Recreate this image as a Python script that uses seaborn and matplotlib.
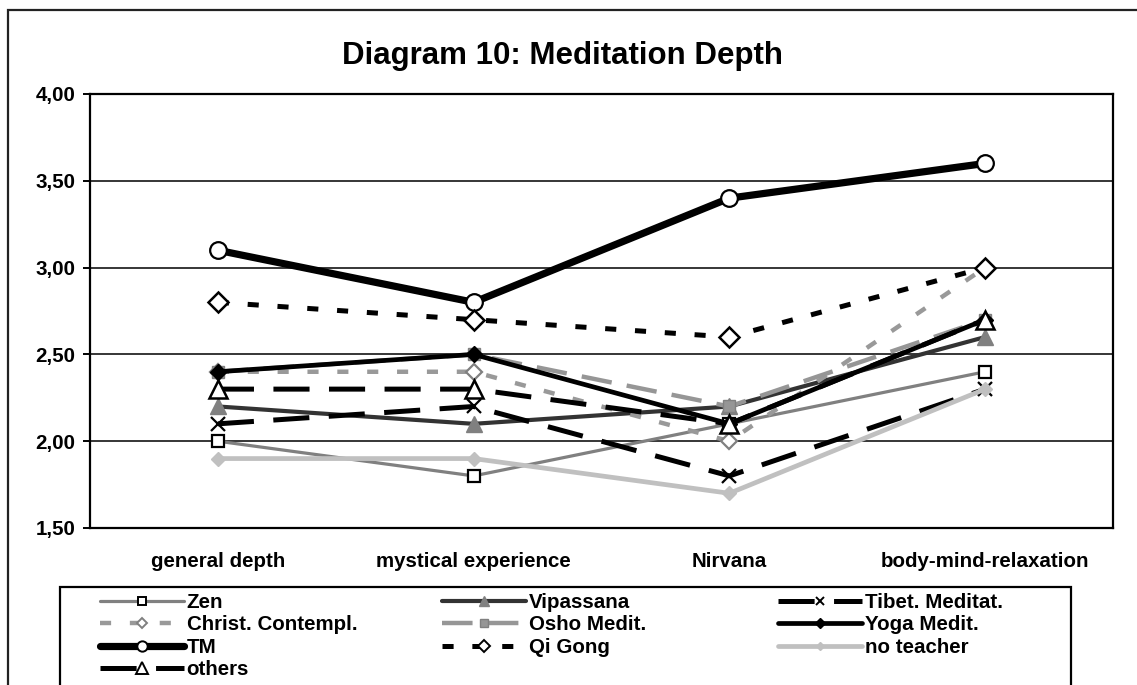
import numpy as np
import pandas as pd
import seaborn as sns
import matplotlib
matplotlib.use("Agg")
import matplotlib.pyplot as plt
from matplotlib.lines import Line2D
from matplotlib.patches import Rectangle

# ---------------- data ----------------
categories = ["general depth", "mystical experience", "Nirvana", "body-mind-relaxation"]
series_names = ["Zen", "Vipassana", "Tibet. Meditat.", "Christ. Contempl.", "Osho Medit.",
                "Yoga Medit.", "TM", "Qi Gong", "no teacher", "others"]
zen = [2.0, 1.8, 2.1, 2.4]
vipassana = [2.2, 2.1, 2.2, 2.6]
tibet = [2.1, 2.2, 1.8, 2.3]
christ = [2.4, 2.4, 2.0, 3.0]
osho = [2.4, 2.5, 2.2, 2.7]
yoga = [2.4, 2.5, 2.1, 2.7]
tm = [3.1, 2.8, 3.4, 3.6]
qigong = [2.8, 2.7, 2.6, 3.0]
no_teacher = [1.9, 1.9, 1.7, 2.3]
others = [2.3, 2.3, 2.1, 2.7]
y_ticks = [1.5, 2.0, 2.5, 3.0, 3.5, 4.0]
y_tick_labels = ["1,50", "2,00", "2,50", "3,00", "3,50", "4,00"]
title = "Diagram 10: Meditation Depth"

values = [zen, vipassana, tibet, christ, osho, yoga, tm, qigong, no_teacher, others]
df = pd.DataFrame({
    "series": np.repeat(series_names, len(categories)),
    "category": categories * len(series_names),
    "pos": list(range(len(categories))) * len(series_names),
    "value": np.concatenate(values),
})

# ---------------- styles ----------------
LONG = (0, (26, 14))
SQDOT = (0, (8, 13.5))
OSHO_DASH = (0, (22, 11))
styles = {
    "Zen": dict(color="#808080", lw=2.3, ls="-", marker="s", ms=8.5, mfc="white", mec="black", mew=1.6),
    "Vipassana": dict(color="#333333", lw=3.0, ls="-", marker="^", ms=11, mfc="#808080", mec="#808080", mew=1.0),
    "Tibet. Meditat.": dict(color="black", lw=3.6, ls=LONG, marker="x", ms=10, mfc="black", mec="black", mew=1.6),
    "Christ. Contempl.": dict(color="#999999", lw=3.2, ls=SQDOT, marker="D", ms=8.5, mfc="white", mec="#808080", mew=1.6),
    "Osho Medit.": dict(color="#969696", lw=3.2, ls=OSHO_DASH, marker="s", ms=9, mfc="#969696", mec="#808080", mew=1.0),
    "Yoga Medit.": dict(color="black", lw=3.4, ls="-", marker="D", ms=8, mfc="black", mec="black", mew=1.0),
    "TM": dict(color="black", lw=5.2, ls="-", marker="o", ms=12, mfc="white", mec="black", mew=1.6),
    "Qi Gong": dict(color="black", lw=3.6, ls=SQDOT, marker="D", ms=10, mfc="white", mec="black", mew=1.8),
    "no teacher": dict(color="#c0c0c0", lw=3.4, ls="-", marker="D", ms=7, mfc="#c0c0c0", mec="#c0c0c0", mew=1.0),
    "others": dict(color="black", lw=3.6, ls=LONG, marker="^", ms=13.5, mfc="white", mec="black", mew=1.8),
}

sns.set_style("white")
plt.rcParams["font.family"] = ["Liberation Sans", "DejaVu Sans"]
plt.rcParams["font.weight"] = "bold"
plt.rcParams["lines.scale_dashes"] = False
for key in ["text.color", "axes.labelcolor", "xtick.color", "ytick.color", "axes.edgecolor"]:
    plt.rcParams[key] = "black"

W, H = 1137, 685
fig = plt.figure(figsize=(W / 100, H / 100), dpi=100)
fig.patch.set_facecolor("white")
ax_l, ax_r, ax_t, ax_b = 90, 1113, 94, 528
ax = fig.add_axes([ax_l / W, 1 - ax_b / H, (ax_r - ax_l) / W, (ax_b - ax_t) / H])

for name in series_names:
    st = styles[name]
    sub = df[df["series"] == name]
    sns.lineplot(data=sub, x="pos", y="value", ax=ax, sort=False, errorbar=None,
                 color=st["color"], linewidth=st["lw"], linestyle=st["ls"],
                 marker=st["marker"], markersize=st["ms"], markerfacecolor=st["mfc"],
                 markeredgecolor=st["mec"], markeredgewidth=st["mew"], label=name,
                 legend=False, zorder=3)

if ax.get_legend() is not None:
    ax.get_legend().remove()

ax.set_xlim(-0.5, len(categories) - 0.5)
ax.set_ylim(y_ticks[0], y_ticks[-1])
ax.set_xlabel("")
ax.set_ylabel("")
ax.set_yticks(y_ticks)
ax.set_yticklabels(y_tick_labels, fontsize=14.8, fontweight="bold", color="black")
ax.set_xticks(np.arange(-0.5, len(categories), 1.0))
ax.set_xticklabels([])
ax.set_xticks(np.arange(len(categories)), minor=True)
ax.set_xticklabels(categories, minor=True, fontsize=14.8, fontweight="bold", color="black")
ax.tick_params(axis="x", which="major", direction="out", length=5, width=1.4, color="black")
ax.tick_params(axis="x", which="minor", length=0, pad=17)
ax.tick_params(axis="y", which="major", direction="out", length=5, width=1.4, color="black", pad=5.5, left=True)
ax.yaxis.grid(True, color="black", linewidth=1.1)
ax.xaxis.grid(False)
ax.set_axisbelow(True)
for sp in ax.spines.values():
    sp.set_visible(True)
    sp.set_color("black")
    sp.set_linewidth(1.6)

fig.text(562 / W, 1 - 64 / H, title, ha="center", va="baseline", fontsize=22.5,
         fontweight="bold", color="black")

# outer chart border and legend box
fig.add_artist(Rectangle((7.5 / W, -0.1), (1145 - 7.5) / W, 1.1 - 10 / H, transform=fig.transFigure,
                         fill=False, edgecolor="#222222", linewidth=1.6))
fig.add_artist(Rectangle((60 / W, -0.1), (1071 - 60) / W, 0.1 + 1 - 587 / H, transform=fig.transFigure,
                         fill=False, edgecolor="black", linewidth=1.6))

# legend (Excel fills row-wise; three columns of equal width)
col_names = [series_names[0::3], series_names[1::3], series_names[2::3]]
col_x = [100, 442, 778]
for cx, names in zip(col_x, col_names):
    handles = []
    for n in names:
        st = styles[n]
        handles.append(Line2D([], [], color=st["color"], linewidth=st["lw"], linestyle=st["ls"],
                              marker=st["marker"], markersize=st["ms"] * 0.62,
                              markerfacecolor=st["mfc"], markeredgecolor=st["mec"],
                              markeredgewidth=min(st["mew"], 1.4)))
    leg = fig.legend(handles, names, loc="upper left", bbox_to_anchor=(cx / W, 1 - 593 / H),
                     frameon=False, borderpad=0, borderaxespad=0, handlelength=4.1,
                     handletextpad=0.12, labelspacing=0.17,
                     prop={"family": ["Liberation Sans", "DejaVu Sans"], "weight": "bold", "size": 14.8})
    for t in leg.get_texts():
        t.set_color("black")

fig.savefig("out.png", dpi=100, facecolor="white")
